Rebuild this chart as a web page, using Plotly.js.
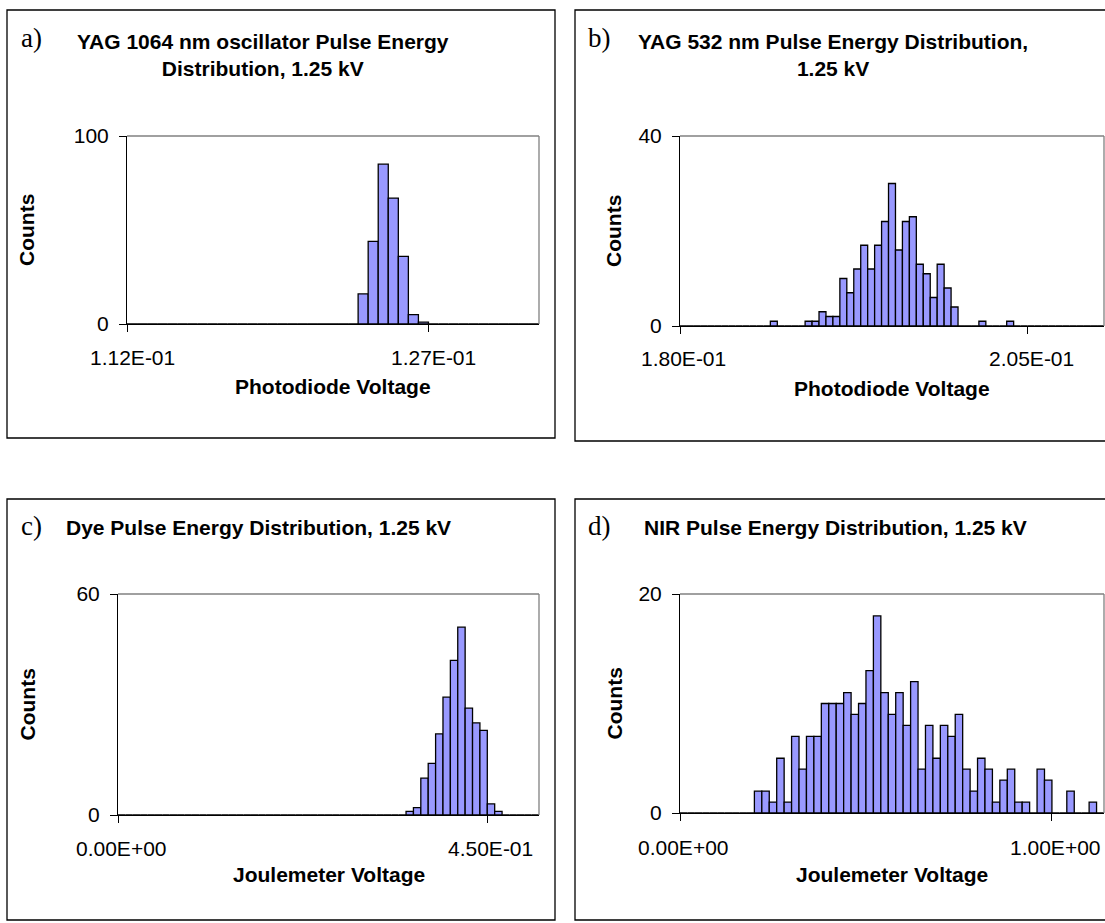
<!DOCTYPE html>
<html><head><meta charset="utf-8">
<script src="https://cdn.plot.ly/plotly-3.0.1.min.js"></script>
<style>html,body{margin:0;padding:0;background:#fff}</style>
</head><body><div id="chart" style="width:1105px;height:923px"></div>
<script>
// ---- data ----
// a) YAG 1064 nm oscillator
const aBinStart = 0.112, aBinWidth = 0.0005;
const aCounts = [0,0,0,0,0,0,0,0,0,0, 0,0,0,0,0,0,0,0,0,0, 0,0,0,16,44,85,67,36,5,1, 0,0,0,0,0,0,0,0,0,0, 0];
const aTickVals = [0.112, 0.127];
const aTickText = ['1.12E-01', '1.27E-01'];
const aYTicks = [0, 100];

// b) YAG 532 nm
const bBinStart = 0.180, bBinWidth = 0.0005;
const bCounts = [0,0,0,0,0,0,0,0,0,0, 0,0,0,1,0,0,0,0,1,1, 3,2,2,10,7,12,17,12,17,22, 30,16,22,23,13,11,6,13,8,4, 0,0,0,1,0,0,0,1,0,0, 0,0,0,0,0,0,0,0,0,0, 0];
const bTickVals = [0.180, 0.205];
const bTickText = ['1.80E-01', '2.05E-01'];
const bYTicks = [0, 40];

// c) Dye
const cBinStart = 0.0, cBinWidth = 0.009;
const cCounts = [0,0,0,0,0,0,0,0,0,0, 0,0,0,0,0,0,0,0,0,0, 0,0,0,0,0,0,0,0,0,0, 0,0,0,0,0,0,0,0,0,1, 2,10,14,22,32,42,51,29,25,23, 3,1,0,0,0,0,0];
const cTickVals = [0.0, 0.45];
const cTickText = ['0.00E+00', '4.50E-01'];
const cYTicks = [0, 60];

// d) NIR
const dBinStart = 0.0, dBinWidth = 0.02;
const dCounts = [0,0,0,0,0,0,0,0,0,0, 2,2,1,5,1,7,4,7,7,10, 10,10,11,9,10,13,18,11,9,11, 8,12,4,8,5,8,7,9,4,2, 5,4,1,3,4,1,1,0,4,3, 0,0,2,0,0,1,0];
const dTickVals = [0.0, 1.0];
const dTickText = ['0.00E+00', '1.00E+00'];
const dYTicks = [0, 20];

const panelLetters = ['a)', 'b)', 'c)', 'd)'];
const panelTitles = [
  'YAG 1064 nm oscillator Pulse Energy<br>Distribution, 1.25 kV',
  'YAG 532 nm Pulse Energy Distribution,<br>1.25 kV',
  'Dye Pulse Energy Distribution, 1.25 kV',
  'NIR Pulse Energy Distribution, 1.25 kV'
];
const xAxisTitles = ['Photodiode Voltage', 'Photodiode Voltage', 'Joulemeter Voltage', 'Joulemeter Voltage'];
const yAxisTitle = 'Counts';

// ---- layout geometry (pixels) ----
const W = 1105, H = 923;
const px = x => x / W;
const py = y => 1 - y / H;

const panels = [
  {start:aBinStart, width:aBinWidth, counts:aCounts, tv:aTickVals, tt:aTickText, yt:aYTicks,
   plot:[127,136,539,324], frame:[7,10,555,438], letter:[31,38], title:[263,55], xt:386, yTitleX:27, labY:357},
  {start:bBinStart, width:bBinWidth, counts:bCounts, tv:bTickVals, tt:bTickText, yt:bYTicks,
   plot:[680,136,1104,326], frame:[575,10,1135,441], letter:[599,38], title:[833,55], xt:388, yTitleX:614, labY:358},
  {start:cBinStart, width:cBinWidth, counts:cCounts, tv:cTickVals, tt:cTickText, yt:cYTicks,
   plot:[118,594,539,815], frame:[7,499,555,920], letter:[31,526], title:[258,527], xt:874, yTitleX:27, labY:848},
  {start:dBinStart, width:dBinWidth, counts:dCounts, tv:dTickVals, tt:dTickText, yt:dYTicks,
   plot:[680,594,1104,813], frame:[575,499,1135,920], letter:[599,526], title:[835,527], xt:874, yTitleX:614, labY:847}
];

const FONT = 'Liberation Sans, Arial, sans-serif';
const traces = [];
const layout = {
  width: W, height: H,
  margin: {l:0, r:0, t:0, b:0},
  paper_bgcolor: '#fff', plot_bgcolor: '#fff',
  showlegend: false, bargap: 0,
  font: {family: FONT, size: 21, color: '#000'},
  shapes: [], annotations: []
};

panels.forEach((p, k) => {
  const n = k + 1;
  const xa = n === 1 ? 'x' : 'x' + n;
  const ya = n === 1 ? 'y' : 'y' + n;
  const xKey = n === 1 ? 'xaxis' : 'xaxis' + n;
  const yKey = n === 1 ? 'yaxis' : 'yaxis' + n;
  const [L, T, R, B] = p.plot;
  const N = p.counts.length;
  const xs = p.counts.map((_, i) => p.start + i * p.width);

  traces.push({
    type: 'bar', x: xs, y: p.counts, width: p.width,
    xaxis: xa, yaxis: ya, hoverinfo: 'skip',
    marker: {color: '#9999FF', line: {color: '#000', width: 1.3}}
  });

  layout[xKey] = {
    domain: [px(L), px(R)], anchor: ya,
    range: [p.start - p.width / 2, p.start + (N - 0.5) * p.width],
    tickmode: 'array', tickvals: p.tv.map(v => v - p.width / 2),
    showticklabels: false, ticks: 'outside', ticklen: 7, tickcolor: '#000', tickwidth: 1,
    showline: true, linecolor: '#000', linewidth: 1,
    showgrid: false, zeroline: false, fixedrange: true
  };
  layout[yKey] = {
    domain: [py(B), py(T)], anchor: xa,
    range: [0, p.yt[p.yt.length - 1]],
    tickmode: 'array', tickvals: p.yt,
    ticks: 'outside', ticklen: 7, tickcolor: '#000', tickwidth: 1,
    ticklabelstandoff: 6,
    showline: true, linecolor: '#000', linewidth: 1,
    showgrid: false, zeroline: false, fixedrange: true,
    tickfont: {family: FONT, size: 21, color: '#000'}
  };

  // gray top & right border of plot area
  layout.shapes.push({type:'line', xref:'paper', yref:'paper', x0:px(L), x1:px(R), y0:py(T), y1:py(T), line:{color:'#808080', width:1.3}});
  layout.shapes.push({type:'line', xref:'paper', yref:'paper', x0:px(R), x1:px(R), y0:py(T), y1:py(B), line:{color:'#808080', width:1.3}});
  // chart frame
  const [fL, fT, fR, fB] = p.frame;
  layout.shapes.push({type:'rect', xref:'paper', yref:'paper', x0:px(fL), x1:px(fR), y0:py(fB), y1:py(fT), line:{color:'#000', width:1.3}});

  // x tick labels (centered on categories)
  p.tv.forEach((v, i) => {
    layout.annotations.push({xref: xa, yref:'paper', x: v, y: py(p.labY), text: p.tt[i],
      showarrow:false, xanchor:'center', yanchor:'middle', font:{family:FONT, size:21, color:'#000'}});
  });
  // panel letter
  layout.annotations.push({xref:'paper', yref:'paper', x:px(p.letter[0]), y:py(p.letter[1]), text: panelLetters[k],
    showarrow:false, xanchor:'center', yanchor:'middle', font:{family:'Liberation Serif, Times New Roman, serif', size:27, color:'#000'}});
  // title
  layout.annotations.push({xref:'paper', yref:'paper', x:px(p.title[0]), y:py(p.title[1]), text:'<b>' + panelTitles[k] + '</b>',
    showarrow:false, xanchor:'center', yanchor:'middle', align:'center', font:{family:FONT, size:21, color:'#000'}});
  // x axis title
  layout.annotations.push({xref:'paper', yref:'paper', x:px((L + R) / 2), y:py(p.xt), text:'<b>' + xAxisTitles[k] + '</b>',
    showarrow:false, xanchor:'center', yanchor:'middle', font:{family:FONT, size:21, color:'#000'}});
  // y axis title
  layout.annotations.push({xref:'paper', yref:'paper', x:px(p.yTitleX), y:py((T + B) / 2), text:'<b>' + yAxisTitle + '</b>',
    textangle:-90, showarrow:false, xanchor:'center', yanchor:'middle', font:{family:FONT, size:21, color:'#000'}});
});

Plotly.newPlot('chart', traces, layout, {displayModeBar:false, staticPlot:true});
</script>
</body></html>
